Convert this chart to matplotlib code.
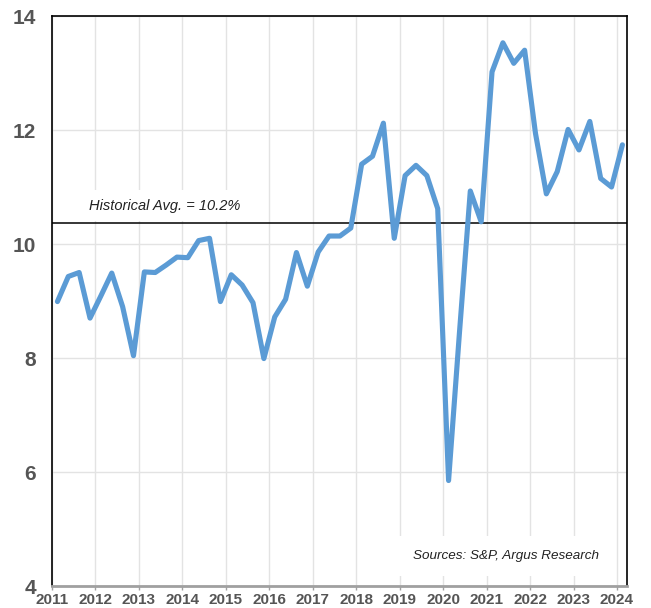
import matplotlib
matplotlib.use("Agg")
import matplotlib.pyplot as plt
import numpy as np

# Quarterly values (2011 Q1 .. 2024 Q1)
start_year = 2011
values = [8.99, 9.43, 9.50, 8.70, 9.09, 9.49, 8.90, 8.04,
          9.51, 9.50, 9.63, 9.77, 9.76, 10.06, 10.10, 8.99,
          9.46, 9.28, 8.97, 7.99, 8.72, 9.03, 9.85, 9.26,
          9.86, 10.14, 10.14, 10.28, 11.40, 11.54, 12.12, 10.10,
          11.20, 11.38, 11.20, 10.62, 5.85, 8.44, 10.93, 10.39,
          13.02, 13.53, 13.17, 13.40, 11.94, 10.88, 11.27, 12.01,
          11.65, 12.15, 11.15, 11.00, 11.74]
hist_avg = 10.36
avg_label = "Historical Avg. = 10.2%"
source_label = "Sources: S&P, Argus Research"
year_ticks = list(range(2011, 2025))
y_ticks = [4, 6, 8, 10, 12, 14]

x = [start_year + 0.125 + i * 0.25 for i in range(len(values))]

plt.rcParams['font.family'] = ['Liberation Sans', 'DejaVu Sans']

fig = plt.figure(figsize=(6.51, 6.08), dpi=100)
ax = fig.add_axes([52/651, 1 - 586/608, (627 - 52)/651, (586 - 16)/608])

ax.set_xlim(2011, 2011 + (627 - 52) / 43.46)
ax.set_ylim(4, 14)
ax.set_xticks(year_ticks)
ax.set_yticks(y_ticks)
ax.grid(True, color='#e3e3e3', linewidth=1.0, zorder=0)
ax.set_axisbelow(True)

ax.plot(x, values, color='#5b9bd5', linewidth=3.7, solid_joinstyle='round',
        solid_capstyle='round', zorder=3)
ax.axhline(hist_avg, color='black', linewidth=1.1, zorder=2)

ax.text(2011.85, 10.67, avg_label, fontsize=10.5, style='italic', color='#222222',
        ha='left', va='center', zorder=1,
        bbox=dict(facecolor='white', edgecolor='none', pad=6))
ax.text(2021.45, 4.53, source_label, fontsize=9.7, style='italic', color='#222222',
        ha='center', va='center', zorder=1,
        bbox=dict(facecolor='white', edgecolor='none', pad=10))

for s in ['top', 'left', 'right']:
    ax.spines[s].set_color('black')
    ax.spines[s].set_linewidth(1.2)
ax.spines['bottom'].set_color('#a0a0a0')
ax.spines['bottom'].set_linewidth(2.0)

ax.tick_params(axis='y', length=0, pad=11.5, labelsize=15, labelcolor='#555555')
ax.tick_params(axis='x', length=3, width=1, color='#a0a0a0', pad=2,
               labelsize=11, labelcolor='#555555')
for lab in ax.get_xticklabels() + ax.get_yticklabels():
    lab.set_fontweight('bold')

fig.savefig('out.png', dpi=100)
